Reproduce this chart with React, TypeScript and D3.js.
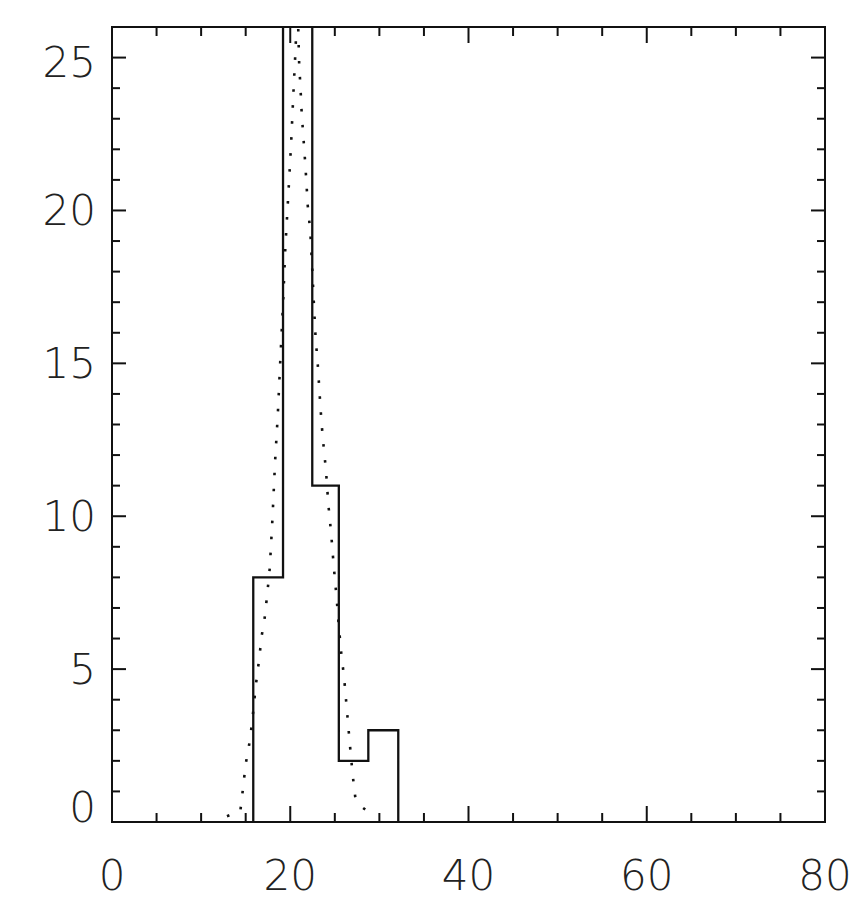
import React from 'react';
import * as d3 from 'd3';

// Histogram bins (edges in x units) and counts
const binEdges = [15.85, 19.19, 22.47, 25.45, 28.76, 32.12];
const binCounts = [8, 28, 11, 2, 3];

// Dotted model curve
const curveX = [
  12.9, 14.4, 14.7, 15.0, 15.35, 15.7, 16.15, 16.5, 16.8, 17.1, 17.4, 17.7, 18.0, 18.3, 18.6, 18.9, 19.2, 19.45, 19.8, 20.1, 20.38, 20.6,
  20.8,
  21.0, 21.15, 21.28, 21.45, 21.62, 21.8, 21.95, 22.25, 22.45, 22.66, 22.85, 23.08, 23.34, 23.5, 23.67, 24.01, 24.27, 24.6, 24.87, 25.21, 25.45, 25.73, 26.05, 26.36, 26.67, 27.0, 27.3, 28.0, 29.06,
];
const curveY = [
  0.19, 0.36, 1.1, 1.9, 2.45, 3.2, 4.5, 5.3, 6.1, 6.6, 7.4, 8.3, 9.9, 11.8, 13.3, 15.2, 17.0, 18.8, 20.6, 22.2, 24.0, 25.3,
  27.0,
  24.8, 24.0, 23.2, 22.5, 21.8, 21.0, 20.2, 19.3, 18.2, 16.9, 15.8, 15.0, 13.8, 13.1, 12.5, 11.5, 10.4, 9.4, 8.4, 7.3, 6.4, 5.5, 4.7, 3.65, 2.6, 1.55, 0.8, 0.5, 0.26,
];

const xTickValues = [0, 20, 40, 60, 80];
const xTickLabels = ['0', '20', '40', '60', '80'];
const yTickValues = [0, 5, 10, 15, 20, 25];
const yTickLabels = ['0', '5', '10', '15', '20', '25'];

const W = 864;
const H = 902;
const L = 112, R = 825, T = 27, B = 822;

export default function App() {
  const x = d3.scaleLinear().domain([0, 80]).range([L, R]);
  const y = d3.scaleLinear().domain([0, 26]).range([B, T]);

  const xMinor = d3.range(0, 81, 5).filter((v) => v % 20 !== 0);
  const yMinor = d3.range(0, 27, 1).filter((v) => v % 5 !== 0);

  const histPts: [number, number][] = [[binEdges[0], 0]];
  binCounts.forEach((c, i) => {
    histPts.push([binEdges[i], c]);
    histPts.push([binEdges[i + 1], c]);
  });
  histPts.push([binEdges[binEdges.length - 1], 0]);
  const line = d3.line<[number, number]>().x((d) => x(d[0])).y((d) => y(d[1]));
  const histPath = line(histPts) || '';
  const curvePts: [number, number][] = curveX.map((v, i) => [v, curveY[i]]);
  const curvePath = line(curvePts) || '';

  const stroke = '#111';
  const font = { fontFamily: '"DejaVu Sans", sans-serif', fontSize: 42, fontWeight: 200 as any, fill: '#222' };

  return (
    <svg width={W} height={H} style={{ position: 'absolute', left: 0, top: 0, background: '#fff' }}>
      <defs>
        <clipPath id="plot">
          <rect x={L} y={T} width={R - L} height={B - T} />
        </clipPath>
      </defs>
      <rect x={0} y={0} width={W} height={H} fill="#fff" />
      <g clipPath="url(#plot)">
        <path d={curvePath} fill="none" stroke={stroke} strokeWidth={2.6} strokeDasharray="2.6 13.4" />
        <path d={histPath} fill="none" stroke={stroke} strokeWidth={2.3} />
      </g>
      {/* box */}
      <rect x={L} y={T} width={R - L} height={B - T} fill="none" stroke={stroke} strokeWidth={2} />
      {/* x ticks bottom & top */}
      {xTickValues.map((v) => (
        <g key={'xM' + v}>
          <line x1={x(v)} x2={x(v)} y1={B} y2={B - 16} stroke={stroke} strokeWidth={2} />
          <line x1={x(v)} x2={x(v)} y1={T} y2={T + 16} stroke={stroke} strokeWidth={2} />
        </g>
      ))}
      {xMinor.map((v) => (
        <g key={'xm' + v}>
          <line x1={x(v)} x2={x(v)} y1={B} y2={B - 9} stroke={stroke} strokeWidth={2} />
          <line x1={x(v)} x2={x(v)} y1={T} y2={T + 9} stroke={stroke} strokeWidth={2} />
        </g>
      ))}
      {/* y ticks left & right */}
      {yTickValues.map((v) => (
        <g key={'yM' + v}>
          <line x1={L} x2={L + 14} y1={y(v)} y2={y(v)} stroke={stroke} strokeWidth={2} />
          <line x1={R} x2={R - 14} y1={y(v)} y2={y(v)} stroke={stroke} strokeWidth={2} />
        </g>
      ))}
      {yMinor.map((v) => (
        <g key={'ym' + v}>
          <line x1={L} x2={L + 8} y1={y(v)} y2={y(v)} stroke={stroke} strokeWidth={2} />
          <line x1={R} x2={R - 8} y1={y(v)} y2={y(v)} stroke={stroke} strokeWidth={2} />
        </g>
      ))}
      {/* labels */}
      {xTickValues.map((v, i) => (
        <text key={'xl' + v} x={x(v)} y={890} textAnchor="middle" {...font}>
          {xTickLabels[i]}
        </text>
      ))}
      {yTickValues.map((v, i) => {
        const cy = Math.min(Math.max(y(v), 62), 807);
        return (
          <text key={'yl' + v} x={96} y={cy + 15} textAnchor="end" {...font}>
            {yTickLabels[i]}
          </text>
        );
      })}
    </svg>
  );
}
